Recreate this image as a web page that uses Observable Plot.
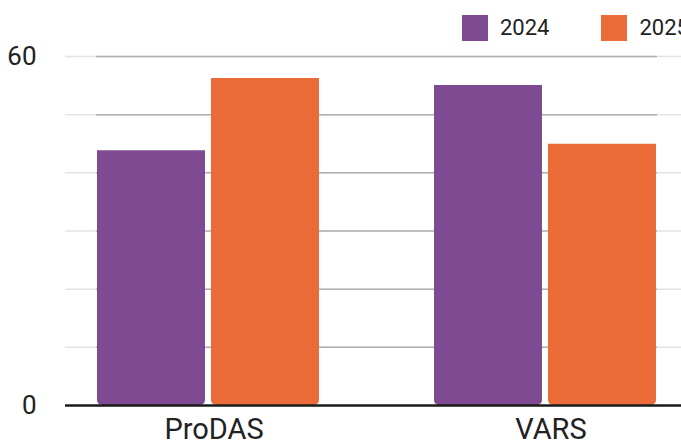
<!DOCTYPE html>
<html>
<head>
<meta charset="utf-8">
<script src="https://cdn.jsdelivr.net/npm/d3@7"></script>
<script src="https://cdn.jsdelivr.net/npm/@observablehq/plot@0.6"></script>
<style>
  html, body { margin: 0; padding: 0; background: #fff; overflow: hidden; }
  #wrap { position: relative; width: 681px; height: 441px; overflow: hidden; font-family: Roboto, sans-serif; }
  .layer { position: absolute; left: 0; top: 0; width: 688px; height: 441px; }
  .layer svg { max-width: none !important; width: 688px; height: 441px; display: block; }
  #legend { position: absolute; left: 462px; top: 15px; display: flex; align-items: center; white-space: nowrap; }
  .item { display: flex; align-items: center; margin-right: 52px; }
  .sw { width: 26px; height: 26px; margin-right: 12px; }
  .lb { font-size: 22px; color: #222; line-height: 26px; }
</style>
</head>
<body>
<div id="wrap">
  <div id="grid" class="layer"></div>
  <div id="bars" class="layer"></div>
  <div id="base" class="layer"></div>
  <div id="legend"></div>
</div>
<script>
const categories = ["ProDAS", "VARS"];
const years = ["2024", "2025"];
const values2024 = [43.8, 55.0];
const values2025 = [56.2, 44.9];
const yTickLabels = [0, 60];
const gridValues = [10, 20, 30, 40, 50, 60];
const colors = ["#7e4a92", "#eb6c39"];

const data = [];
categories.forEach((c, i) => {
  data.push({category: c, year: years[0], value: values2024[i]});
  data.push({category: c, year: years[1], value: values2025[i]});
});

const frame = {
  width: 688,
  height: 441,
  marginLeft: 65,
  marginRight: 0,
  marginTop: 56,
  marginBottom: 36,
  style: {fontFamily: "Roboto, sans-serif", background: "transparent", color: "#222", maxWidth: "none"},
  y: {domain: [0, 60], axis: null}
};

// background grid (unfaceted, shares the same y scale)
const grid = Plot.plot({
  ...frame,
  marks: [
    Plot.ruleY(gridValues, {stroke: "#e4e4e4", strokeWidth: 1.5}),
    Plot.ruleY(gridValues, {stroke: "#b0b0b0", strokeWidth: 1.5, insetLeft: 31, insetRight: 31})
  ]
});
document.getElementById("grid").appendChild(grid);

// bars, faceted by category
const bars = Plot.plot({
  ...frame,
  fx: {domain: categories, paddingInner: 0.339, paddingOuter: 0.0919, label: null},
  x: {domain: years, paddingInner: 0.0526, paddingOuter: 0, axis: null},
  color: {domain: years, range: colors},
  marks: [
    Plot.barY(data, {fx: "category", x: "year", y: "value", fill: "year", ry2: 5}),
    Plot.axisY({ticks: yTickLabels, tickSize: 0, tickPadding: 61, fontSize: 26, label: null, fill: "#222"}),
    Plot.axisFx({anchor: "bottom", tickSize: 0, tickPadding: 13, fontSize: 29, label: null, dx: 5, fill: "#222"})
  ]
});
document.getElementById("bars").appendChild(bars);

// baseline on top
const base = Plot.plot({
  ...frame,
  marks: [
    Plot.ruleY([0], {stroke: "#1a1a1a", strokeWidth: 2.5})
  ]
});
document.getElementById("base").appendChild(base);

const color = bars.scale("color");
const legend = document.getElementById("legend");
years.forEach(y => {
  const item = document.createElement("div");
  item.className = "item";
  const sw = document.createElement("div");
  sw.className = "sw";
  sw.style.background = color.range[color.domain.indexOf(y)];
  const lb = document.createElement("span");
  lb.className = "lb";
  lb.textContent = y;
  item.appendChild(sw);
  item.appendChild(lb);
  legend.appendChild(item);
});
</script>
</body>
</html>
